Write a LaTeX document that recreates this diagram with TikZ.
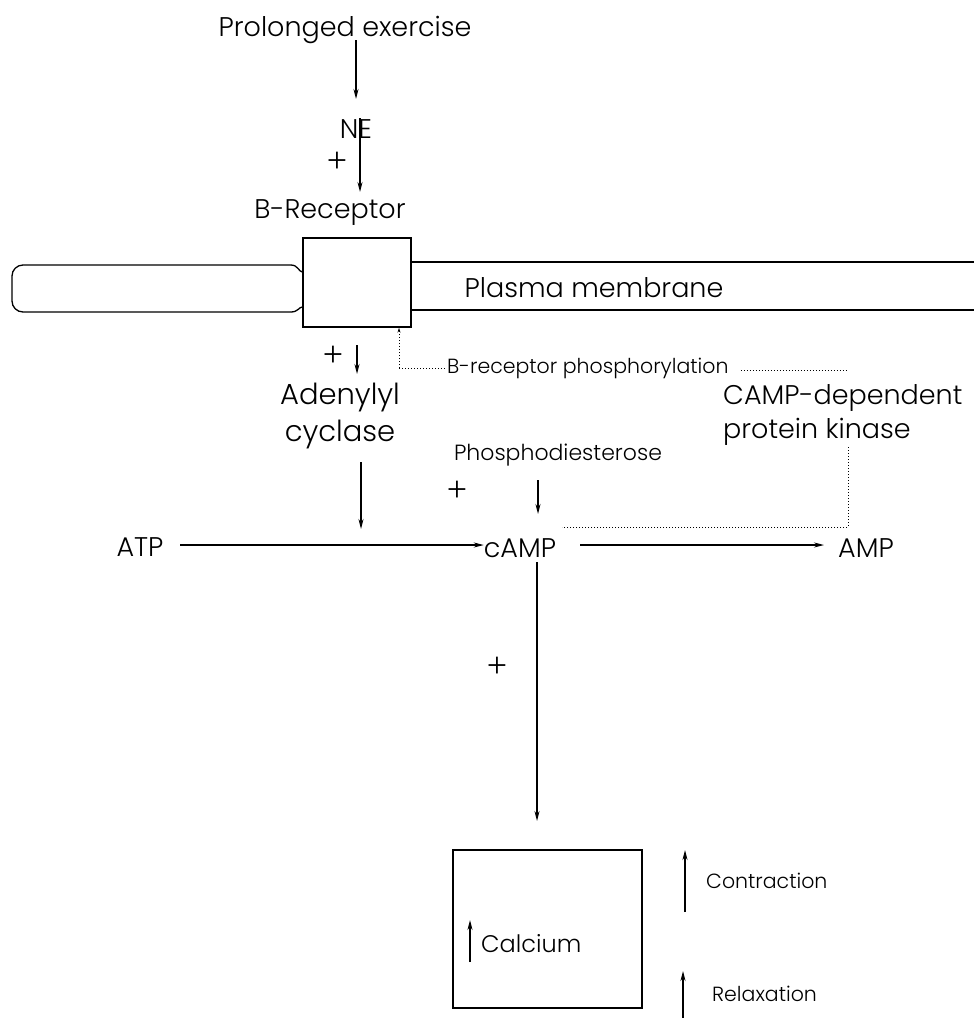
\documentclass[tikz,border=0pt]{standalone}
\usepackage{fontspec}
\setmainfont{Poppins}[UprightFont=* Light]
\newfontfamily\plusfont{Liberation Serif}
\usetikzlibrary{arrows.meta}
\begin{document}
\begin{tikzpicture}[x=1pt,y=-1pt,
  txt/.style={font=\fontsize{27}{31}\selectfont, inner sep=0pt},
  bigtxt/.style={font=\fontsize{29}{37}\selectfont, inner sep=0pt},
  smalltxt/.style={font=\fontsize{20.5}{24}\selectfont, inner sep=0pt},
  plus/.style={font=\plusfont\fontsize{36}{36}\selectfont, inner sep=0pt, text height=18pt, text depth=0pt},
  arr/.style={-{Stealth[length=10pt,width=5pt]}, line width=1.3pt},
  dot/.style={dotted, line width=1pt},
  outl/.style={line width=1.3pt}]
\useasboundingbox (0,0) rectangle (974,1018);

% top
\node[txt] (ex) at (345,30) {Prolonged exercise};
\node[txt] (ne) at (356,129) {NE};
\node[plus] (p1) at (337,163) {+};
\node[txt] (br) at (330,213) {B-Receptor};
\coordinate (a1s) at (356,40);
\coordinate (a1e) at (356,99);
\draw[arr] (a1s) -- (a1e);
\coordinate (a2s) at (360,118);
\coordinate (a2e) at (360,192);
\draw[arr] (a2s) -- (a2e);

% receptor box and membrane
\node[draw, outl, minimum width=108pt, minimum height=89pt, inner sep=0pt] (box) at (357,282.5) {};
\draw[outl, rounded corners=11pt] (291,265) -- (12,265) -- (12,312) -- (291,312);
\draw[outl] (291,265) .. controls (298,265) and (299,272) .. (box.west |- 0,272);
\draw[outl] (291,312) .. controls (298,312) and (299,307) .. (box.west |- 0,307);
\draw[outl] (box.east |- 0,262) -- (974,262);
\draw[outl] (box.east |- 0,310) -- (974,310);
\node[txt] (pm) at (594,288) {Plasma membrane};

% below receptor
\node[plus] (p2) at (333,357) {+};
\coordinate (a3s) at (357,345);
\coordinate (a3e) at (357,374);
\draw[arr] (a3s) -- (a3e);
\node[smalltxt, anchor=west] (phos) at (447,368) {B-receptor phosphorylation};
\coordinate (d1) at (399,368);
\draw[dot, -{Stealth[length=5pt,width=3pt]}] (d1) -- (box.south -| d1);
\draw[dot] (d1) -- (phos.west);
\node[txt, anchor=west] (pka) at (723,398) {CAMP-dependent};
\node[txt, anchor=west] (pkb) at (723,432) {protein kinase};
\coordinate (d2) at (848,370);
\coordinate (d3) at (848,447);
\coordinate (d4) at (848,527);
\coordinate (d5) at (562,527);
\draw[dot] (phos.east) ++(12,2) -- (d2);
\draw[dot] (d3) -- (d4) -- (d5);

\node[bigtxt, align=center] (ac) at (340,416) {Adenylyl\\cyclase};
\node[font=\fontsize{22}{26}\selectfont, inner sep=0pt] (pde) at (558,455) {Phosphodiesterose};
\node[plus] (p3) at (457,492) {+};

% main line
\node[txt] (atp) at (140,547) {ATP};
\node[txt] (camp) at (520,548) {cAMP};
\node[txt] (amp) at (866,548) {AMP};
\coordinate (l1s) at (180,545);
\coordinate (l2s) at (580,545);
\draw[arr] (l1s) -- (l1s -| camp.west);
\draw[arr] (l2s) -- ([xshift=-14pt]l2s -| amp.west);
\coordinate (a4s) at (361,462);
\coordinate (a4e) at (361,529);
\draw[arr] (a4s) -- (a4e);
\coordinate (a5s) at (538,480);
\coordinate (a5e) at (538,514);
\draw[arr] (a5s) -- (a5e);

% down to calcium
\node[plus] (p4) at (497,668) {+};
\node[draw, outl, minimum width=189pt, minimum height=158pt, inner sep=0pt] (ca) at (547.5,929) {};
\coordinate (a6s) at (537,562);
\coordinate (a6e) at (537,821);
\draw[arr] (a6s) -- (a6e);
\node[font=\fontsize{24}{28}\selectfont, inner sep=0pt, anchor=west] (catx) at (481,944) {Calcium};
\draw[arr] (470,962) -- (470,920);
\node[font=\fontsize{20.5}{25}\selectfont, inner sep=0pt, anchor=west] (con) at (706,881) {Contraction};
\draw[arr] (685,912) -- (685,850);
\node[font=\fontsize{20.5}{25}\selectfont, inner sep=0pt, anchor=west] (rel) at (712,994) {Relaxation};
\draw[arr] (683,1018) -- (683,971);
\end{tikzpicture}
\end{document}
